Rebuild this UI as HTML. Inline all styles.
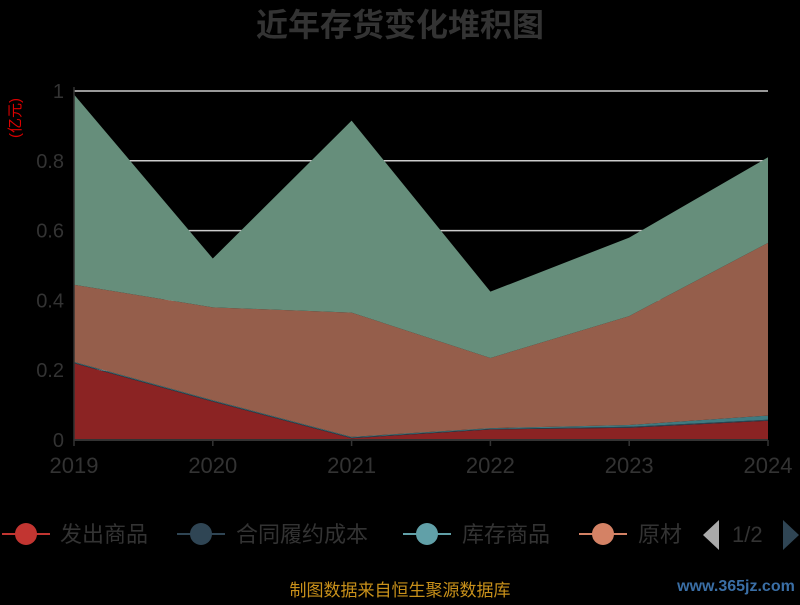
<!DOCTYPE html>
<html><head><meta charset="utf-8"><style>
body{margin:0;background:#000;font-family:"Liberation Sans","Noto Sans CJK SC",sans-serif;}
</style></head><body>
<svg id="c" width="800" height="600" xmlns="http://www.w3.org/2000/svg">
<rect width="800" height="600" fill="#000"/>
<text x="400" y="36" text-anchor="middle" font-size="32" font-weight="bold" fill="#333">近年存货变化堆积图</text>
<text transform="translate(20,118) rotate(-90)" text-anchor="middle" font-size="15" fill="#d00">(亿元)</text>
<g id="plot"></g>
<g font-size="22" fill="#333">
<g><line x1="2" y1="534" x2="50" y2="534" stroke="#c23531" stroke-width="2"/><circle cx="26" cy="534" r="11" fill="#c23531"/><text x="60" y="542">发出商品</text></g>
<g><line x1="177" y1="534" x2="225" y2="534" stroke="#2f4554" stroke-width="2"/><circle cx="201" cy="534" r="11" fill="#2f4554"/><text x="236" y="542">合同履约成本</text></g>
<g><line x1="403" y1="534" x2="451" y2="534" stroke="#61a0a8" stroke-width="2"/><circle cx="427" cy="534" r="11" fill="#61a0a8"/><text x="462" y="542">库存商品</text></g>
<g><line x1="579" y1="534" x2="627" y2="534" stroke="#d48265" stroke-width="2"/><circle cx="603" cy="534" r="11" fill="#d48265"/><text x="638" y="542">原材</text></g>
<polygon points="719,520 719,550 703,535" fill="#aaa"/>
<text x="732" y="542" fill="#333">1/2</text>
<polygon points="783,520 783,550 799,535" fill="#2f4554"/>
</g>
<text x="400" y="596" text-anchor="middle" font-size="17" fill="#c8901a">制图数据来自恒生聚源数据库</text>
<text x="736" y="591" text-anchor="middle" font-size="16" font-weight="bold" fill="#3a6ea5">www.365jz.com</text>
</svg>
<script>
const categories=["2019","2020","2021","2022","2023","2024"];
const fachu=[0.22,0.11,0.005,0.03,0.035,0.055];
const hetong=[0.002,0.002,0.002,0.002,0.003,0.003];
const kucun=[0.002,0.002,0.002,0.002,0.005,0.012];
const yuancailiao=[0.221,0.266,0.356,0.201,0.312,0.495];
const qita=[0.545,0.14,0.55,0.19,0.225,0.245];
const yTicks=[0,0.2,0.4,0.6,0.8,1];
const yTickLabels=["0","0.2","0.4","0.6","0.8","1"];
const X0=74,X1=768,Y0=440,Y1=91;
const xs=i=>X0+i*(X1-X0)/(categories.length-1);
const ys=v=>Y0-v*(Y0-Y1);
const NS="http://www.w3.org/2000/svg";
const g=document.getElementById('plot');
function mk(t,a){const e=document.createElementNS(NS,t);for(const k in a)e.setAttribute(k,a[k]);g.appendChild(e);return e;}
yTicks.forEach((v,i)=>{
 if(v>0){const l=mk('line',{x1:X0,x2:X1,y1:ys(v),y2:ys(v),stroke:'#ccc','stroke-width':1.5});
 
 }
 const t=mk('text',{x:X0-10,y:ys(v)+7,'text-anchor':'end','font-size':20,fill:'#333'});t.textContent=yTickLabels[i];
 
 
});
const series=[[fachu,'#8b2323','fachu'],[hetong,'#2f4554','hetong'],[kucun,'#3f7a80','kucun'],[yuancailiao,'#955e4b','yuancailiao'],[qita,'#668e7b','qita']];
let base=categories.map(()=>0);
series.forEach(([d,col,n])=>{
 const top=base.map((b,i)=>b+d[i]);
 let pts=top.map((v,i)=>xs(i)+','+ys(v));
 for(let i=base.length-1;i>=0;i--)pts.push(xs(i)+','+ys(base[i]));
 const p=mk('polygon',{points:pts.join(' '),fill:col});
 
 
 base=top;
});
const ax=mk('line',{x1:X0,x2:X1,y1:Y0,y2:Y0,stroke:'#333','stroke-width':2});


const ay=mk('line',{x1:X0,x2:X0,y1:Y1-4,y2:Y0,stroke:'#333','stroke-width':1.5});


categories.forEach((c,i)=>{
 const tk=mk('line',{x1:xs(i),x2:xs(i),y1:Y0,y2:Y0+6,stroke:'#333','stroke-width':1.5});
 
 
 const t=mk('text',{x:xs(i),y:Y0+33,'text-anchor':'middle','font-size':22,fill:'#333'});t.textContent=c;
 
 
});
</script>
</body></html>
